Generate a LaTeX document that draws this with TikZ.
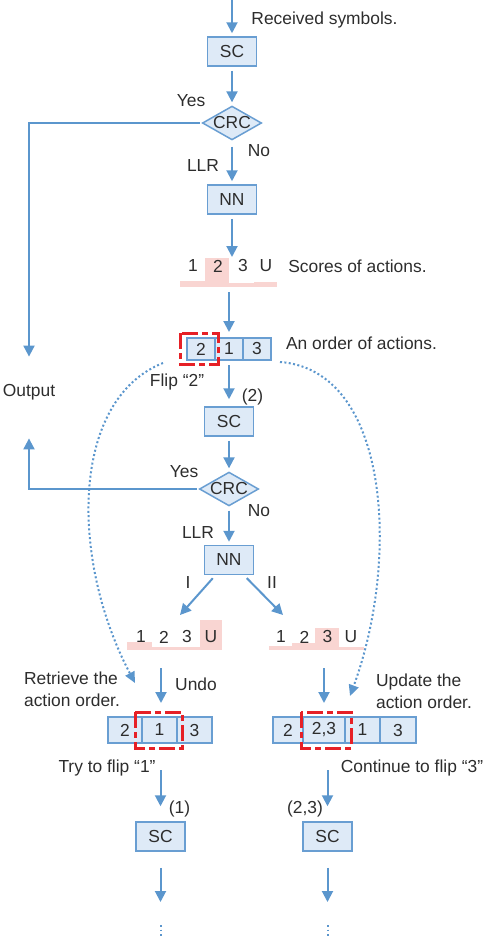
\documentclass[tikz,border=0pt]{standalone}
\usepackage{fontspec}
\setmainfont{Liberation Sans}
\usepackage{tikz}
\usetikzlibrary{shapes.geometric,arrows.meta,positioning}
\definecolor{lblue}{RGB}{91,150,205}
\definecolor{bblue}{RGB}{105,158,210}
\definecolor{bfill}{RGB}{222,234,247}
\definecolor{fred}{RGB}{230,32,38}
\definecolor{spink}{RGB}{249,213,210}
\definecolor{txt}{RGB}{45,45,45}
\tikzstyle{line} = [draw=lblue, line width=2pt, -{Triangle[width=11pt,length=11pt]}, shorten <=4pt, shorten >=3pt]
\tikzstyle{hop} = [draw=lblue, line width=2pt, dash pattern=on 2pt off 2.4pt, -{Triangle[width=10pt,length=11pt]}]
\tikzstyle{block} = [rectangle, draw=bblue, fill=bfill, line width=1.5pt, minimum width=49pt, minimum height=29pt, inner sep=0pt]
\tikzstyle{decision} = [diamond, draw=bblue, fill=bfill, line width=1.5pt, aspect=1.75, inner sep=0pt]
\tikzstyle{cell} = [rectangle, draw=bblue, fill=bfill, line width=1.5pt, minimum height=26pt, inner sep=0pt, outer sep=0pt]
\tikzstyle{flag} = [draw=fred, line width=3pt, dash pattern=on 16pt off 4pt on 6pt off 4pt]
\tikzstyle{score} = [fill=spink]
\tikzstyle{etc} = [draw=lblue, line width=2pt, dash pattern=on 1.5pt off 3pt]

\begin{document}
\begin{tikzpicture}[x=1pt, y=-1pt, font=\fontsize{17.4}{22}\selectfont, text=txt]
\useasboundingbox (0,0) rectangle (484,938);

% first decoding attempt
\coordinate (in) at (232,0);
\node[block] (sc1) at (232,51.5) {SC};
\node[decision] (crc1) at (232,123) {CRC};
\node[block] (nn1) at (232,199.5) {NN};
\node (rx) at (324.5,20) {Received symbols.};
\node (yes1) at (191,101) {Yes};
\node (no1) at (259,151) {No};
\node (llr1) at (203,166) {LLR};
\node (out) at (29,392) {Output};

\draw[line, shorten <=0pt] (in) -- (sc1);
\draw[line] (sc1) -- (crc1);
\draw[line, shorten <=6pt] (crc1) -- (nn1);
\draw[line, shorten <=2pt] (crc1.west) -| ([yshift=21pt]out.north);

% scores of the first run
\fill[score] (180,281) rectangle (205,286.5);
\fill[score] (205,258) rectangle (229,286.5);
\fill[score] (229,283) rectangle (254,286.5);
\fill[score] (254,282) rectangle (277,286.5);
\foreach \t/\x in {1/193,2/218,3/243,U/266}
  \node (sa\t) at (\x,266) {\t};
\node (sco) at (357.5,266) {Scores of actions.};
\coordinate (scA) at (232,257);
\coordinate (scB) at (229,292);
\draw[line, shorten >=0pt] (nn1) -- (scA);

% order of actions
\node[cell, minimum width=28pt, minimum height=22pt] (o2) at (201,349) {2};
\node[cell, minimum width=28pt, minimum height=22pt, right=0pt of o2] (o1) {1};
\node[cell, minimum width=28pt, minimum height=22pt, right=0pt of o1] (o3) {3};
\draw[flag] (180,333) rectangle (218,364);
\node (ord) at (361.5,343) {An order of actions.};
\draw[line, shorten <=0pt, shorten >=6pt] (scB) -- (o1);

% second decoding attempt
\node[block] (sc2) at (229,421.5) {SC};
\node[decision] (crc2) at (229,489) {CRC};
\node[block] (nn2) at (229,560) {NN};
\node (flip2) at (177,382) {Flip “2”};
\node (p2) at (252.5,397) {(2)};
\node (yes2) at (184,472) {Yes};
\node (no2) at (259,511) {No};
\node (llr2) at (198,533) {LLR};
\node (one) at (188,583) {I};
\node (two) at (272,583) {II};

\draw[line, shorten <=5pt, shorten >=7pt] (o1) -- (sc2);
\draw[line] (sc2) -- (crc2);
\draw[line] (crc2) -- (nn2);
\draw[line, shorten <=2pt] (crc2.west) -| ([yshift=-32pt]out.south);

\coordinate (brL) at (180,615);
\coordinate (brR) at (283,615);
\draw[line, shorten >=0pt] (nn2) -- (brL);
\draw[line, shorten >=0pt] (nn2) -- (brR);

% scores, branch I
\fill[score] (127,642) rectangle (152,650);
\fill[score] (152,647) rectangle (177,650);
\fill[score] (177,647) rectangle (200,650);
\fill[score] (200,620) rectangle (222,650);
\foreach \t/\x in {1/141,2/164,3/187,U/211}
  \node (sb\t) at (\x,637) {\t};

% scores, branch II
\fill[score] (269,646) rectangle (292,650);
\fill[score] (292,643) rectangle (315,650);
\fill[score] (315,628) rectangle (339,650);
\fill[score] (339,647) rectangle (364,650);
\foreach \t/\x in {1/281,2/304.5,3/327.5,U/351}
  \node (sc\t) at (\x,637) {\t};

% jumps back to the order
\coordinate (lhop) at (163,363);
\coordinate (rtv) at (135,683);
\coordinate (rhop) at (280,362);
\coordinate (upd) at (350,696);
\draw[hop] (lhop) .. controls (70,400) and (70,560) .. (rtv);
\draw[hop] (rhop) .. controls (390,370) and (400,560) .. (upd);

% branch I: undo
\node[align=left] (ret) at (72,689) {Retrieve the\\action order.};
\node (undo) at (196,684) {Undo};
\node[cell, minimum width=34pt] (bl2) at (125,730) {2};
\node[cell, minimum width=35pt, right=0pt of bl2] (bl1) {1};
\node[cell, minimum width=35pt, right=0pt of bl1] (bl3) {3};
\draw[flag] (135,712) rectangle (182,748);
\coordinate (undoA) at (161,668);
\draw[line, shorten <=0pt, shorten >=14pt] (undoA) -- (undoA |- bl1.north);

\node (try) at (107,768) {Try to flip “1”};
\node (p1) at (179.5,809) {(1)};
\node[block] (sc3) at (160.5,836.5) {SC};
\coordinate (tryA) at (160.5,770);
\coordinate (endL) at (160.5,902);
\draw[line, shorten <=0pt, shorten >=15pt] (tryA) -- (sc3);
\draw[line, shorten <=16pt, shorten >=0pt] (sc3) -- (endL);
\draw[etc] (160.5,925) -- (160.5,938);

% branch II: update
\node[align=left] (updt) at (424,691) {Update the\\action order.};
\node[cell, minimum width=30pt] (br2) at (288,730) {2};
\node[cell, minimum width=42pt, right=0pt of br2] (br23) {2,3};
\node[cell, minimum width=35pt, right=0pt of br23] (br1) {1};
\node[cell, minimum width=36pt, right=0pt of br1] (br3) {3};
\draw[flag] (301,712) rectangle (351,748);
\coordinate (updA) at (324,668);
\draw[line, shorten <=0pt, shorten >=14pt] (updA) -- (updA |- br23.north);

\node (cont) at (412,768) {Continue to flip “3”};
\node (p23) at (305,809) {(2,3)};
\node[block] (sc4) at (327.5,836.5) {SC};
\coordinate (contA) at (327.5,770);
\coordinate (endR) at (327.5,902);
\draw[line, shorten <=0pt, shorten >=15pt] (contA) -- (sc4);
\draw[line, shorten <=16pt, shorten >=0pt] (sc4) -- (endR);
\draw[etc] (327.5,925) -- (327.5,938);
\end{tikzpicture}
\end{document}
